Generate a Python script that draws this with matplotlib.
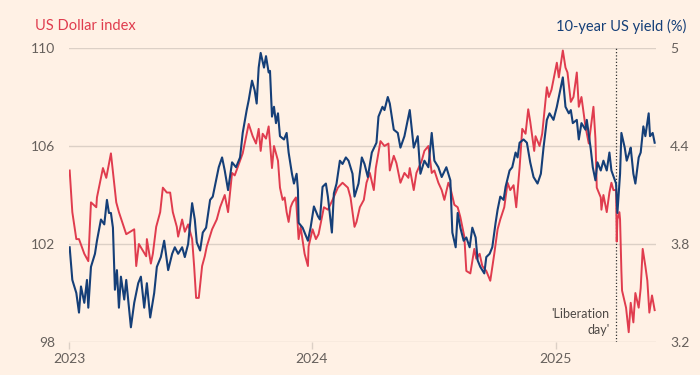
import matplotlib
matplotlib.use("Agg")
import matplotlib.pyplot as plt
import matplotlib.dates as mdates
import pandas as pd

# ---------------- data ----------------
dxy_dates = [
    "2023-01-02", "2023-01-06", "2023-01-12", "2023-01-16", "2023-01-24", "2023-01-30",
    "2023-02-03", "2023-02-11", "2023-02-12", "2023-02-21", "2023-02-26", "2023-03-05",
    "2023-03-13", "2023-03-17", "2023-03-28", "2023-04-09", "2023-04-12", "2023-04-16",
    "2023-04-27", "2023-04-28", "2023-05-04", "2023-05-07", "2023-05-12", "2023-05-18",
    "2023-05-22", "2023-05-28", "2023-06-02", "2023-06-06", "2023-06-12", "2023-06-14",
    "2023-06-20", "2023-06-24", "2023-06-29", "2023-07-05", "2023-07-08", "2023-07-11",
    "2023-07-15", "2023-07-20", "2023-07-24", "2023-07-27", "2023-08-04", "2023-08-11",
    "2023-08-16", "2023-08-23", "2023-08-28", "2023-09-03", "2023-09-07", "2023-09-15",
    "2023-09-19", "2023-09-28", "2023-10-04", "2023-10-09", "2023-10-13", "2023-10-16",
    "2023-10-19", "2023-10-24", "2023-10-28", "2023-11-02", "2023-11-05", "2023-11-11",
    "2023-11-14", "2023-11-18", "2023-11-21", "2023-11-24", "2023-11-27", "2023-11-30",
    "2023-12-03", "2023-12-08", "2023-12-12", "2023-12-15", "2023-12-21", "2023-12-26",
    "2023-12-27", "2024-01-02", "2024-01-07", "2024-01-11", "2024-01-19", "2024-01-25",
    "2024-02-01", "2024-02-09", "2024-02-16", "2024-02-24", "2024-02-28", "2024-03-05",
    "2024-03-08", "2024-03-13", "2024-03-19", "2024-03-23", "2024-03-28", "2024-04-03",
    "2024-04-06", "2024-04-13", "2024-04-19", "2024-04-25", "2024-04-27", "2024-05-03",
    "2024-05-07", "2024-05-13", "2024-05-19", "2024-05-25", "2024-05-27", "2024-06-02",
    "2024-06-06", "2024-06-14", "2024-06-18", "2024-06-24", "2024-06-29", "2024-07-03",
    "2024-07-09", "2024-07-14", "2024-07-18", "2024-07-24", "2024-07-27", "2024-08-02",
    "2024-08-07", "2024-08-11", "2024-08-17", "2024-08-20", "2024-08-26", "2024-09-01",
    "2024-09-04", "2024-09-09", "2024-09-13", "2024-09-19", "2024-09-25", "2024-10-01",
    "2024-10-06", "2024-10-10", "2024-10-16", "2024-10-21", "2024-10-25", "2024-10-30",
    "2024-11-03", "2024-11-08", "2024-11-12", "2024-11-17", "2024-11-21", "2024-11-24",
    "2024-11-30", "2024-12-02", "2024-12-08", "2024-12-12", "2024-12-19", "2024-12-22",
    "2024-12-26", "2025-01-03", "2025-01-06", "2025-01-12", "2025-01-16", "2025-01-19",
    "2025-01-24", "2025-01-28", "2025-02-02", "2025-02-05", "2025-02-09", "2025-02-15",
    "2025-02-20", "2025-02-27", "2025-03-02", "2025-03-04", "2025-03-10", "2025-03-11",
    "2025-03-14", "2025-03-19", "2025-03-23", "2025-03-26", "2025-03-29", "2025-04-02",
    "2025-04-03", "2025-04-04", "2025-04-07", "2025-04-08", "2025-04-10", "2025-04-11",
    "2025-04-17", "2025-04-21", "2025-04-24", "2025-04-28", "2025-05-01", "2025-05-06",
    "2025-05-09", "2025-05-12", "2025-05-16", "2025-05-19", "2025-05-22", "2025-05-26",
    "2025-05-30",
]
dxy_values = [
    105.0, 103.3, 102.2, 102.2, 101.6, 101.3,
    103.7, 103.5, 103.9, 105.1, 104.7, 105.7,
    103.7, 103.3, 102.4, 102.6, 101.1, 102.0,
    101.5, 102.2, 101.2, 101.6, 102.7, 103.3,
    104.3, 104.1, 104.1, 103.3, 102.7, 102.3,
    103.0, 102.5, 102.8, 102.2, 101.1, 99.8,
    99.8, 101.1, 101.5, 101.9, 102.6, 103.0,
    103.5, 104.0, 103.3, 104.9, 104.8, 105.4,
    105.7, 106.9, 106.4, 106.1, 106.7, 105.8,
    106.5, 106.3, 106.8, 105.1, 106.0, 105.4,
    104.3, 103.8, 103.9, 103.3, 102.9, 103.5,
    103.7, 103.9, 102.2, 102.7, 101.6, 101.1,
    101.9, 102.6, 102.2, 102.4, 103.5, 103.4,
    103.8, 104.3, 104.5, 104.3, 103.9, 102.7,
    102.9, 103.5, 103.8, 104.5, 104.9, 104.2,
    105.1, 106.2, 106.0, 106.1, 105.0, 105.6,
    105.3, 104.5, 104.9, 104.7, 105.1, 104.2,
    104.9, 105.4, 105.8, 106.0, 104.9, 105.0,
    104.5, 104.2, 103.8, 104.5, 104.3, 103.6,
    103.5, 103.1, 102.3, 100.9, 100.8, 101.8,
    101.4, 101.6, 101.1, 100.9, 100.5, 101.6,
    102.6, 103.0, 103.5, 104.5, 104.2, 104.4,
    103.5, 105.1, 106.7, 106.5, 107.5, 107.0,
    105.8, 106.4, 106.0, 106.5, 108.4, 108.0,
    108.3, 109.4, 108.8, 109.9, 109.2, 109.0,
    107.8, 108.0, 109.0, 107.6, 108.0, 106.8,
    106.1, 107.6, 106.3, 104.3, 103.9, 103.4,
    104.0, 103.3, 104.1, 104.5, 104.2, 104.2,
    102.1, 103.0, 103.3, 103.0, 100.9, 100.1,
    99.4, 98.4, 99.6, 98.8, 100.0, 99.4,
    100.2, 101.8, 101.1, 100.5, 99.2, 99.9,
    99.3,
]

yield_dates = [
    "2023-01-02", "2023-01-06", "2023-01-12", "2023-01-16", "2023-01-19", "2023-01-24",
    "2023-01-28", "2023-01-30", "2023-02-03", "2023-02-09", "2023-02-12", "2023-02-18",
    "2023-02-23", "2023-02-27", "2023-03-02", "2023-03-05", "2023-03-08", "2023-03-11",
    "2023-03-14", "2023-03-17", "2023-03-20", "2023-03-25", "2023-03-28", "2023-04-04",
    "2023-04-09", "2023-04-15", "2023-04-19", "2023-04-24", "2023-04-28", "2023-05-03",
    "2023-05-09", "2023-05-13", "2023-05-19", "2023-05-24", "2023-05-30", "2023-06-05",
    "2023-06-09", "2023-06-14", "2023-06-20", "2023-06-24", "2023-06-29", "2023-07-05",
    "2023-07-09", "2023-07-12", "2023-07-17", "2023-07-21", "2023-07-26", "2023-08-01",
    "2023-08-05", "2023-08-10", "2023-08-14", "2023-08-19", "2023-08-23", "2023-08-28",
    "2023-09-03", "2023-09-09", "2023-09-15", "2023-09-19", "2023-09-25", "2023-09-28",
    "2023-10-03", "2023-10-07", "2023-10-10", "2023-10-13", "2023-10-16", "2023-10-21",
    "2023-10-24", "2023-10-28", "2023-10-30", "2023-11-02", "2023-11-05", "2023-11-08",
    "2023-11-11", "2023-11-14", "2023-11-20", "2023-11-24", "2023-11-27", "2023-12-02",
    "2023-12-05", "2023-12-09", "2023-12-11", "2023-12-12", "2023-12-18", "2023-12-26",
    "2023-12-30", "2024-01-04", "2024-01-10", "2024-01-13", "2024-01-17", "2024-01-22",
    "2024-01-25", "2024-01-31", "2024-02-03", "2024-02-07", "2024-02-12", "2024-02-16",
    "2024-02-21", "2024-02-25", "2024-03-02", "2024-03-05", "2024-03-11", "2024-03-16",
    "2024-03-20", "2024-03-25", "2024-03-31", "2024-04-07", "2024-04-10", "2024-04-16",
    "2024-04-19", "2024-04-24", "2024-04-27", "2024-05-03", "2024-05-09", "2024-05-13",
    "2024-05-19", "2024-05-27", "2024-06-02", "2024-06-08", "2024-06-12", "2024-06-18",
    "2024-06-24", "2024-06-29", "2024-07-03", "2024-07-09", "2024-07-14", "2024-07-21",
    "2024-07-27", "2024-07-30", "2024-08-04", "2024-08-07", "2024-08-11", "2024-08-16",
    "2024-08-20", "2024-08-25", "2024-08-29", "2024-09-03", "2024-09-06", "2024-09-10",
    "2024-09-16", "2024-09-19", "2024-09-24", "2024-09-28", "2024-10-03", "2024-10-06",
    "2024-10-10", "2024-10-15", "2024-10-18", "2024-10-24", "2024-10-28", "2024-11-02",
    "2024-11-05", "2024-11-08", "2024-11-14", "2024-11-19", "2024-11-24", "2024-11-29",
    "2024-12-05", "2024-12-10", "2024-12-14", "2024-12-19", "2024-12-23", "2024-12-29",
    "2025-01-03", "2025-01-07", "2025-01-12", "2025-01-16", "2025-01-21", "2025-01-24",
    "2025-01-27", "2025-02-02", "2025-02-05", "2025-02-09", "2025-02-15", "2025-02-17",
    "2025-02-23", "2025-02-26", "2025-03-02", "2025-03-05", "2025-03-10", "2025-03-14",
    "2025-03-19", "2025-03-23", "2025-03-26", "2025-04-02", "2025-04-04", "2025-04-08",
    "2025-04-10", "2025-04-15", "2025-04-18", "2025-04-22", "2025-04-24", "2025-04-28",
    "2025-05-01", "2025-05-06", "2025-05-09", "2025-05-13", "2025-05-16", "2025-05-21",
    "2025-05-23", "2025-05-27", "2025-05-30",
]
yield_values = [
    3.78, 3.58, 3.50, 3.38, 3.54, 3.44,
    3.58, 3.41, 3.66, 3.74, 3.82, 3.95,
    3.92, 4.07, 3.99, 3.99, 3.90, 3.52,
    3.64, 3.41, 3.60, 3.46, 3.58, 3.29,
    3.44, 3.56, 3.60, 3.41, 3.56, 3.35,
    3.50, 3.66, 3.72, 3.82, 3.64, 3.74,
    3.78, 3.74, 3.78, 3.72, 3.80, 4.05,
    3.95, 3.81, 3.76, 3.87, 3.90, 4.07,
    4.09, 4.19, 4.27, 4.33, 4.25, 4.13,
    4.30, 4.27, 4.33, 4.48, 4.62, 4.68,
    4.80, 4.74, 4.66, 4.88, 4.97, 4.88,
    4.95, 4.85, 4.86, 4.58, 4.64, 4.54,
    4.60, 4.46, 4.44, 4.48, 4.36, 4.23,
    4.17, 4.23, 4.13, 3.93, 3.90, 3.82,
    3.90, 4.03, 3.97, 3.95, 4.15, 4.17,
    4.09, 3.87, 4.11, 4.17, 4.31, 4.29,
    4.33, 4.31, 4.23, 4.09, 4.17, 4.33,
    4.29, 4.21, 4.36, 4.42, 4.58, 4.64,
    4.62, 4.70, 4.66, 4.50, 4.48, 4.39,
    4.46, 4.62, 4.39, 4.46, 4.23, 4.31,
    4.27, 4.48, 4.31, 4.27, 4.21, 4.27,
    4.19, 3.87, 3.78, 3.99, 3.90, 3.82,
    3.84, 3.78, 3.90, 3.84, 3.70, 3.66,
    3.62, 3.72, 3.74, 3.78, 3.93, 4.01,
    4.09, 4.07, 4.15, 4.25, 4.27, 4.36,
    4.33, 4.42, 4.44, 4.42, 4.30, 4.21,
    4.17, 4.23, 4.39, 4.56, 4.60, 4.56,
    4.64, 4.72, 4.82, 4.64, 4.60, 4.62,
    4.54, 4.56, 4.44, 4.54, 4.50, 4.56,
    4.38, 4.27, 4.19, 4.30, 4.25, 4.31,
    4.25, 4.36, 4.25, 4.17, 3.99, 4.23,
    4.48, 4.39, 4.31, 4.36, 4.39, 4.23,
    4.17, 4.33, 4.36, 4.52, 4.46, 4.60,
    4.46, 4.48, 4.42,
]

left_ticks = [98, 102, 106, 110]
right_ticks = [3.2, 3.8, 4.4, 5.0]
right_tick_labels = ["3.2", "3.8", "4.4", "5"]
year_ticks = ["2023-01-01", "2024-01-01", "2025-01-01"]
year_labels = ["2023", "2024", "2025"]
event_date = "2025-04-02"
event_label = "'Liberation\nday'"

# ---------------- style ----------------
BG = "#FFF1E5"
RED = "#E03C4E"
BLUE = "#153F78"
GRID = "#DCD0C6"
TICKTXT = "#66605C"

plt.rcParams["font.family"] = ["Lato", "DejaVu Sans"]

fig = plt.figure(figsize=(7, 3.75), dpi=100, facecolor=BG)
ax = fig.add_axes([69 / 700, 1 - 342 / 375, (656 - 69) / 700, (342 - 48) / 375])
ax.set_facecolor(BG)
ax2 = ax.twinx()

dd = pd.to_datetime(dxy_dates)
yd = pd.to_datetime(yield_dates)

ax.plot(dd, dxy_values, color=RED, lw=1.4, solid_joinstyle="round", zorder=3)
ax2.plot(yd, yield_values, color=BLUE, lw=1.5, solid_joinstyle="round", zorder=3)

ax.set_ylim(98, 110)
ax2.set_ylim(3.2, 5.0)
ax.set_xlim(pd.Timestamp("2023-01-01"), pd.Timestamp("2025-06-01"))

for a in (ax, ax2):
    for s in a.spines.values():
        s.set_visible(False)

ax.set_yticks(left_ticks)
ax.set_yticklabels([str(t) for t in left_ticks])
ax.tick_params(axis="y", length=0, pad=10, labelsize=10, labelcolor=TICKTXT)
ax2.set_yticks(right_ticks)
ax2.set_yticklabels(right_tick_labels)
ax2.tick_params(axis="y", length=0, pad=10, labelsize=10, labelcolor=TICKTXT)

for t in left_ticks:
    ax.axhline(t, color=GRID, lw=1.0, zorder=1)

ax.set_xticks(pd.to_datetime(year_ticks))
ax.set_xticklabels(year_labels)
ax.tick_params(axis="x", length=5, width=1.0, color=GRID, pad=3,
               labelsize=10, labelcolor=TICKTXT)

ev = pd.Timestamp(event_date)
ax.axvline(ev, color="#333333", lw=0.9, ls=(0, (1, 1.6)), zorder=2)
ax.text(ev - pd.Timedelta(days=10), 98.25, event_label, ha="right", va="bottom",
        fontsize=9, color="#4D4845", linespacing=1.35)

fig.text(35 / 700, 1 - 26 / 375, "US Dollar index", ha="left", va="center",
         fontsize=10.5, color=RED)
fig.text(686 / 700, 1 - 26 / 375, "10-year US yield (%)", ha="right", va="center",
         fontsize=10.5, color=BLUE)

fig.savefig("out.png", dpi=100, facecolor=BG)
